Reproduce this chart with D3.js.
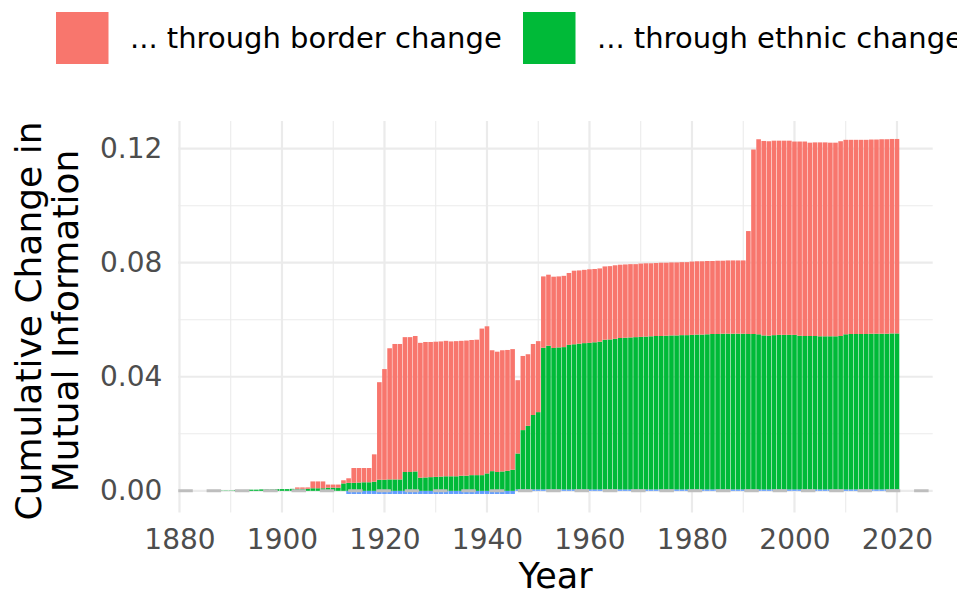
<!DOCTYPE html>
<html>
<head>
<meta charset="utf-8">
<script src="https://cdn.jsdelivr.net/npm/d3@7"></script>
<style>
  body { margin: 0; background: #fff; }
  svg { display: block; font-family: "DejaVu Sans", sans-serif; }
</style>
</head>
<body>
<svg id="chart" width="957" height="596"></svg>
<script>
// years 1888..2020, one bar per year
const firstYear = 1888;

// contribution through border change
const border = [
  0,0,0,0,0,0,0,0,0,0,0,0,0,0,0,
  0.0005,0.0005,0.0005,0.0024,0.0024,0.0024,0.0011,0.0011,0.0011,0.0011,
  0.0016,0.0052,0.0051,0.0050,0.0050,0.0096,0.0342,0.0388,0.0460,0.0475,
  0.0475,0.0473,0.0473,0.0475,0.0473,0.0475,0.0474,0.0474,0.0474,0.0475,
  0.0473,0.0474,0.0473,0.0474,0.0474,0.0475,0.0514,0.0516,0.0424,0.0422,
  0.0425,0.0424,0.0423,
  0.0257,0.0260,0.0251,0.0249,0.0249,
  0.0250,0.0249,0.0250,0.0249,0.0250,0.0252,0.0258,0.0257,0.0257,0.0258,
  0.0257,0.0257,0.0257,0.0257,0.0258,0.0257,0.0257,0.0257,0.0256,0.0257,
  0.0257,0.0256,0.0256,0.0257,0.0256,0.0256,0.0256,0.0256,0.0256,0.0257,
  0.0257,0.0257,0.0257,0.0256,0.0257,0.0256,0.0257,0.0257,0.0257,0.0257,
  0.0361,0.0647,0.0684,0.0682,0.0682,0.0682,0.0681,0.0681,0.0681,0.0678,
  0.0681,0.0682,0.0678,0.0679,0.0680,0.0680,0.0679,0.0679,0.0683,0.0682,
  0.0681,0.0681,0.0681,0.0681,0.0681,0.0681,0.0682,0.0682,0.0682,0.0682
];

// contribution through ethnic change
const ethnic = [
  0.0001,0.0001,0.0001,0.0002,0.0002,0.0003,0.0004,0.0004,0.0005,0.0005,
  0.0005,0.0006,0.0006,0.0006,0.0007,
  0.0007,0.0007,0.0007,0.0009,0.0009,0.0009,0.0011,0.0011,0.0011,0.0026,
  0.0028,0.0028,0.0029,0.0030,0.0030,0.0032,0.0039,0.0039,0.0040,0.0040,
  0.0040,0.0066,0.0066,0.0068,0.0046,0.0047,0.0048,0.0049,0.0050,0.0051,
  0.0051,0.0051,0.0053,0.0053,0.0055,0.0055,0.0055,0.0061,0.0069,0.0066,
  0.0068,0.0070,0.0074,
  0.0126,0.0208,0.0223,0.0261,0.0271,
  0.0497,0.0504,0.0496,0.0498,0.0499,0.0507,0.0509,0.0511,0.0513,0.0514,
  0.0516,0.0518,0.0525,0.0526,0.0528,0.0531,0.0532,0.0533,0.0534,0.0535,
  0.0536,0.0537,0.0538,0.0538,0.0539,0.0540,0.0540,0.0541,0.0541,0.0542,
  0.0543,0.0543,0.0544,0.0545,0.0545,0.0546,0.0546,0.0546,0.0546,0.0546,
  0.0545,0.0545,0.0544,0.0540,0.0539,0.0541,0.0542,0.0542,0.0542,0.0542,
  0.0539,0.0538,0.0538,0.0538,0.0537,0.0537,0.0537,0.0537,0.0538,0.0544,
  0.0545,0.0545,0.0545,0.0545,0.0546,0.0546,0.0546,0.0546,0.0547,0.0547
];

// third (small) component, negative 1913-1945
const other = [
  0,0,0,0,0,0,0,0,0,0,0,0,0,0,0,
  0,0,0,0,0,0,0,0,0,0,
  -0.0011,-0.0011,-0.0011,-0.0011,-0.0011,-0.0011,-0.0011,-0.0011,-0.0011,-0.0011,
  -0.0011,-0.0011,-0.0011,-0.0011,-0.0011,-0.0011,-0.0011,-0.0011,-0.0011,-0.0011,
  -0.0011,-0.0011,-0.0011,-0.0011,-0.0011,-0.0011,-0.0011,-0.0011,-0.0011,-0.0011,
  -0.0011,-0.0011,-0.0011,
  0.0005,0.0005,0.0005,0.0005,0.0005,
  0.0005,0.0005,0.0005,0.0005,0.0005,0.0005,0.0005,0.0005,0.0005,0.0005,
  0.0005,0.0005,0.0005,0.0005,0.0005,0.0005,0.0005,0.0005,0.0005,0.0005,
  0.0005,0.0005,0.0005,0.0005,0.0005,0.0005,0.0005,0.0005,0.0005,0.0005,
  0.0005,0.0005,0.0005,0.0005,0.0005,0.0005,0.0005,0.0005,0.0005,0.0005,
  0.0005,0.0005,0.0005,0.0005,0.0005,0.0005,0.0005,0.0005,0.0005,0.0005,
  0.0005,0.0005,0.0005,0.0005,0.0005,0.0005,0.0005,0.0005,0.0005,0.0005,
  0.0005,0.0005,0.0005,0.0005,0.0005,0.0005,0.0005,0.0005,0.0005,0.0005
];

const xTicks = [1880, 1900, 1920, 1940, 1960, 1980, 2000, 2020];
const xMinor = [1890, 1910, 1930, 1950, 1970, 1990, 2010];
const yTicks = [0, 0.04, 0.08, 0.12];
const yMinor = [0.02, 0.06, 0.10];

const legendLabels = ["... through border change", "... through ethnic change"];
const colors = { border: "#F8766D", ethnic: "#00BA38", other: "#619CFF" };

const rows = border.map((b, i) => ({
  year: firstYear + i, border: b, ethnic: ethnic[i], other: other[i]
}));

const svg = d3.select("#chart");
const panel = { left: 178.3, right: 932.7, top: 121, bottom: 512.5 };

const x = d3.scaleLinear().domain([1879.77, 2026.97]).range([panel.left, panel.right]);
const y = d3.scaleLinear().domain([-0.0076, 0.1297]).range([panel.bottom, panel.top]);

// grid
const grid = svg.append("g");
grid.selectAll(".vmin").data(xMinor).enter().append("line")
  .attr("x1", d => x(d)).attr("x2", d => x(d))
  .attr("y1", panel.top).attr("y2", panel.bottom)
  .attr("stroke", "#EBEBEB").attr("stroke-width", 1.1);
grid.selectAll(".hmin").data(yMinor).enter().append("line")
  .attr("x1", panel.left).attr("x2", panel.right)
  .attr("y1", d => y(d)).attr("y2", d => y(d))
  .attr("stroke", "#EBEBEB").attr("stroke-width", 1.1);
grid.selectAll(".vmaj").data(xTicks).enter().append("line")
  .attr("x1", d => x(d)).attr("x2", d => x(d))
  .attr("y1", panel.top).attr("y2", panel.bottom)
  .attr("stroke", "#EBEBEB").attr("stroke-width", 2.2);
grid.selectAll(".hmaj").data(yTicks).enter().append("line")
  .attr("x1", panel.left).attr("x2", panel.right)
  .attr("y1", d => y(d)).attr("y2", d => y(d))
  .attr("stroke", "#EBEBEB").attr("stroke-width", 2.2);

// stacked bars
const stack = d3.stack()
  .keys(["other", "ethnic", "border"])
  .offset(d3.stackOffsetDiverging);
const series = stack(rows);
const barW = (x(1) - x(0)) * 0.9;

svg.append("g").selectAll("g").data(series).enter().append("g")
  .attr("fill", d => colors[d.key])
  .selectAll("rect").data(d => d).enter().append("rect")
  .attr("x", d => x(d.data.year) - barW / 2)
  .attr("width", barW)
  .attr("y", d => y(Math.max(d[0], d[1])))
  .attr("height", d => Math.abs(y(d[0]) - y(d[1])));

// dashed zero line
svg.append("line")
  .attr("x1", panel.left).attr("x2", panel.right)
  .attr("y1", y(0)).attr("y2", y(0))
  .attr("stroke", "#BEBEBE").attr("stroke-width", 3)
  .attr("stroke-dasharray", "14.5,13.8");

// axes
const xAxis = svg.append("g")
  .attr("transform", `translate(0,${panel.bottom})`)
  .call(d3.axisBottom(x).tickValues(xTicks).tickFormat(d3.format("d")).tickSize(0).tickPadding(17));
const yAxis = svg.append("g")
  .attr("transform", `translate(${panel.left},0)`)
  .call(d3.axisLeft(y).tickValues(yTicks).tickFormat(d3.format(".2f")).tickSize(0).tickPadding(16));
[xAxis, yAxis].forEach(a => {
  a.select(".domain").remove();
  a.selectAll("text").attr("fill", "#4D4D4D").style("font-size", "28px")
    .style("font-family", "DejaVu Sans, sans-serif");
});

// titles
svg.append("text").attr("x", (panel.left + panel.right) / 2).attr("y", 588)
  .attr("text-anchor", "middle").style("font-size", "35px").text("Year");
const yt = svg.append("text")
  .attr("transform", "translate(0,321) rotate(-90)")
  .attr("text-anchor", "middle").style("font-size", "36px");
yt.append("tspan").attr("x", 0).attr("y", 41).text("Cumulative Change in");
yt.append("tspan").attr("x", 0).attr("y", 78).text("Mutual Information");

// legend (runs off the right edge, as in the original)
const legend = svg.append("g");
const legendX = [56, 523];
legendLabels.forEach((lab, i) => {
  const key = i === 0 ? "border" : "ethnic";
  legend.append("rect").attr("x", legendX[i]).attr("y", 12)
    .attr("width", 52.5).attr("height", 52).attr("fill", colors[key]);
  legend.append("text").attr("x", legendX[i] + 74).attr("y", 48)
    .style("font-size", "29px").text(lab);
});
</script>
</body>
</html>
